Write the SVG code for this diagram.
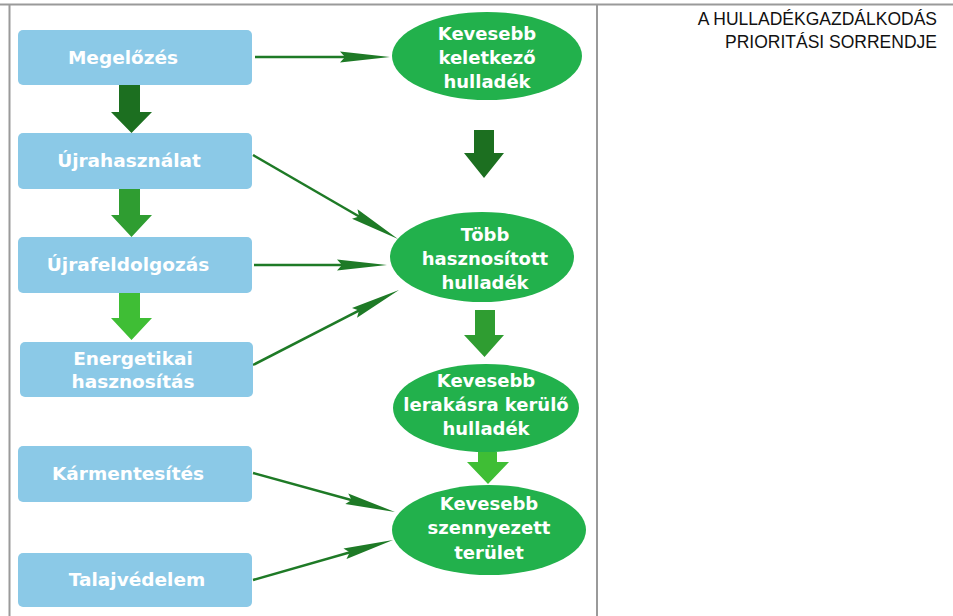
<svg xmlns="http://www.w3.org/2000/svg" width="953" height="616" viewBox="0 0 953 616">
<style>
.box{fill:#8bc9e7;}
.ell{fill:#22b14c;}
.lbl{font-family:"DejaVu Sans","Liberation Sans",sans-serif;font-weight:bold;font-size:18.5px;fill:#ffffff;text-anchor:middle;}
.el{font-size:18px;}
.con{stroke:#1e7a26;stroke-width:2.5;fill:none;marker-end:url(#ah);}
.frame{stroke:#9a9a9a;stroke-width:2;fill:none;}
.title{font-family:"Liberation Sans",Arial,sans-serif;font-size:17.5px;fill:#111;text-anchor:end;}
.dark{fill:#1c6f20;}
.mid{fill:#2f9d31;}
.light{fill:#3fbe35;}
</style>
<defs>
<marker id="ah" viewBox="0 0 50 12" markerUnits="userSpaceOnUse" markerWidth="50" markerHeight="12" refX="30" refY="6" orient="auto">
<path d="M0,0.5 L50,6 L0,11.5 L5,6 Z" fill="#1e7a26"/>
</marker>
</defs>

<g id="frame">
<line class="frame" x1="0" y1="4.5" x2="953" y2="4.5"/>
<line class="frame" x1="9.5" y1="4" x2="9.5" y2="616"/>
<line class="frame" x1="597" y1="4" x2="597" y2="616"/>
</g>

<g id="title">
<text class="title" x="937" y="25">A HULLADÉKGAZDÁLKODÁS</text>
<text class="title" x="937" y="48">PRIORITÁSI SORRENDJE</text>
</g>

<g id="connectors">
<path class="con" d="M255,57 L370,57"/>
<path class="con" d="M253,155 L380.7,229"/>
<path class="con" d="M254,265 L367,265"/>
<path class="con" d="M253,365 L381.2,299.1"/>
<path class="con" d="M253,473 L375.7,506.7"/>
<path class="con" d="M253,580 L373.8,545.5"/>
<polygon class="dark" points="119,85 140,85 140,112 152,112 131.5,133 111,112 119,112"/>
<polygon class="mid" points="119,189 140,189 140,215 152,215 131.5,237 111,215 119,215"/>
<polygon class="light" points="119,293 140,293 140,318 152,318 131.5,340 111,318 119,318"/>
<polygon class="dark" points="474,130 494,130 494,153 504,153 484,178 464,153 474,153"/>
<polygon class="mid" points="475,310 495,310 495,335 504,335 484.5,357 464,335 475,335"/>
<polygon class="light" points="478,452 497,452 497,462 509,462 488,484 467,462 478,462"/>
</g>

<g id="n-megelozes">
<rect class="box" x="18" y="30" width="234" height="55" rx="5"/>
<text class="lbl" x="123" y="64">Megelőzés</text>
</g>
<g id="n-ujrahasznalat">
<rect class="box" x="18" y="133" width="234" height="56" rx="5"/>
<text class="lbl" x="129" y="167">Újrahasználat</text>
</g>
<g id="n-ujrafeldolgozas">
<rect class="box" x="18" y="237" width="234" height="56" rx="5"/>
<text class="lbl" x="128" y="271">Újrafeldolgozás</text>
</g>
<g id="n-energetikai">
<rect class="box" x="20" y="342" width="233" height="55" rx="5"/>
<text class="lbl" x="133" y="365">Energetikai</text>
<text class="lbl" x="133" y="388">hasznosítás</text>
</g>
<g id="n-karmentesites">
<rect class="box" x="18" y="446" width="234" height="56" rx="5"/>
<text class="lbl" x="128" y="480">Kármentesítés</text>
</g>
<g id="n-talajvedelem">
<rect class="box" x="18" y="553" width="234" height="54" rx="5"/>
<text class="lbl" x="137" y="586">Talajvédelem</text>
</g>

<g id="e-keletkezo">
<ellipse class="ell" cx="487" cy="56" rx="95" ry="44"/>
<text class="lbl el" x="487" y="40">Kevesebb</text>
<text class="lbl el" x="487" y="64">keletkező</text>
<text class="lbl el" x="487" y="88">hulladék</text>
</g>
<g id="e-hasznositott">
<ellipse class="ell" cx="482" cy="257" rx="92" ry="45"/>
<text class="lbl el" x="485" y="241">Több</text>
<text class="lbl el" x="485" y="265">hasznosított</text>
<text class="lbl el" x="485" y="289">hulladék</text>
</g>
<g id="e-lerakasra">
<ellipse class="ell" cx="486" cy="408" rx="93" ry="44"/>
<text class="lbl el" x="486" y="387">Kevesebb</text>
<text class="lbl el" x="486" y="411">lerakásra kerülő</text>
<text class="lbl el" x="486" y="435">hulladék</text>
</g>
<g id="e-szennyezett">
<ellipse class="ell" cx="489" cy="530" rx="97" ry="45"/>
<text class="lbl el" x="489" y="510">Kevesebb</text>
<text class="lbl el" x="489" y="534">szennyezett</text>
<text class="lbl el" x="489" y="559">terület</text>
</g>
</svg>
